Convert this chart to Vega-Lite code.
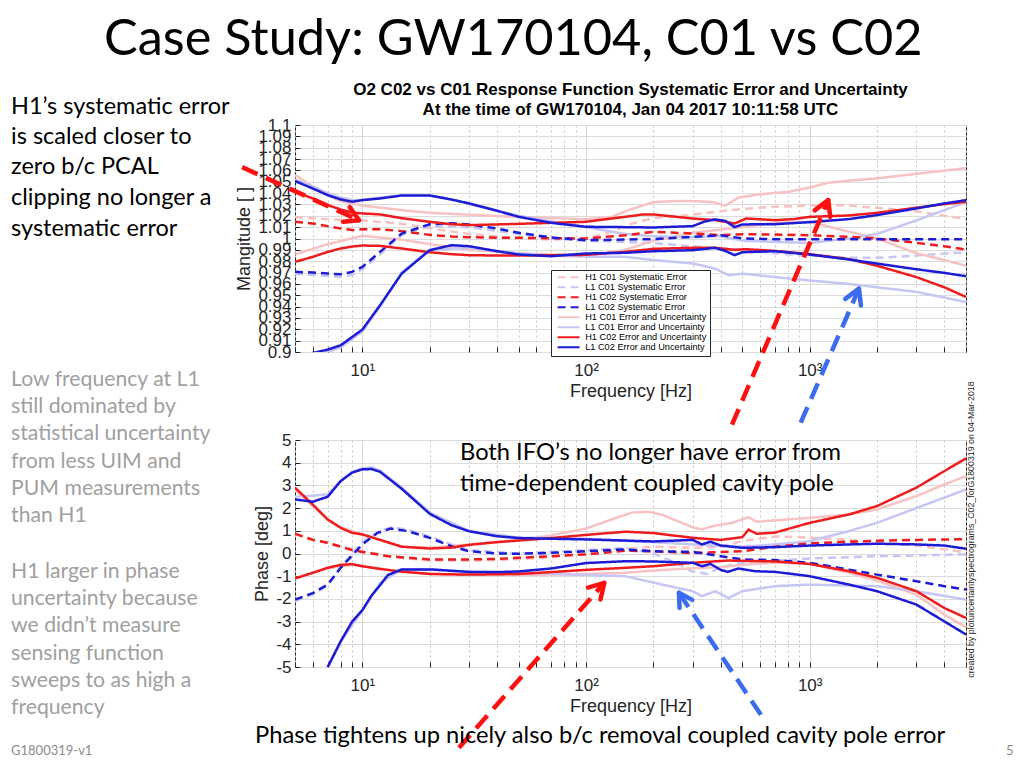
{
"$schema": "https://vega.github.io/schema/vega-lite/v6.json",
"background": "white",
"padding": {"left": 10, "top": 14, "right": 0, "bottom": 0},
"autosize": {"type": "pad"},
"bounds": "flush",
"spacing": 88,
"config": {
  "view": {"stroke": "#262626", "strokeWidth": 1},
  "axis": {"labelFont": "Liberation Sans", "titleFont": "Liberation Sans", "labelColor": "#262626", "titleColor": "#262626", "titleFontWeight": "normal", "domain": false, "ticks": true, "tickSize": -5, "tickColor": "#262626", "labelFontSize": 17, "titleFontSize": 18, "labelOverlap": false, "labelSeparation": -40, "labelBound": false, "tickCount": 200}
},
"datasets": {
"mag": [
{"s":"hs1","b":"m","f":5,"v":1.019},{"s":"hs1","b":"m","f":7,"v":1.017},{"s":"hs1","b":"m","f":10,"v":1.016},{"s":"hs1","b":"m","f":15,"v":1.013},{"s":"hs1","b":"m","f":20,"v":1.009},{"s":"hs1","b":"m","f":30,"v":1.004},{"s":"hs1","b":"m","f":50,"v":1.0},{"s":"hs1","b":"m","f":70,"v":0.999},{"s":"hs1","b":"m","f":100,"v":1.0},{"s":"hs1","b":"m","f":130,"v":1.006},{"s":"hs1","b":"m","f":160,"v":1.013},{"s":"hs1","b":"m","f":200,"v":1.018},{"s":"hs1","b":"m","f":300,"v":1.021},{"s":"hs1","b":"m","f":400,"v":1.024},{"s":"hs1","b":"m","f":500,"v":1.026},{"s":"hs1","b":"m","f":700,"v":1.028},{"s":"hs1","b":"m","f":1000,"v":1.029},{"s":"hs1","b":"m","f":1500,"v":1.029},{"s":"hs1","b":"m","f":2000,"v":1.027},{"s":"hs1","b":"m","f":3000,"v":1.024},{"s":"hs1","b":"m","f":5000,"v":1.017},
{"s":"ls1","b":"m","f":5,"v":0.969},{"s":"ls1","b":"m","f":6,"v":0.968},{"s":"ls1","b":"m","f":7,"v":0.967},{"s":"ls1","b":"m","f":8,"v":0.966},{"s":"ls1","b":"m","f":9,"v":0.968},{"s":"ls1","b":"m","f":10,"v":0.973},{"s":"ls1","b":"m","f":12,"v":0.986},{"s":"ls1","b":"m","f":15,"v":1.003},{"s":"ls1","b":"m","f":20,"v":1.011},{"s":"ls1","b":"m","f":30,"v":1.01},{"s":"ls1","b":"m","f":50,"v":1.004},{"s":"ls1","b":"m","f":70,"v":1.0},{"s":"ls1","b":"m","f":100,"v":0.998},{"s":"ls1","b":"m","f":200,"v":0.996},{"s":"ls1","b":"m","f":300,"v":0.993},{"s":"ls1","b":"m","f":500,"v":0.99},{"s":"ls1","b":"m","f":700,"v":0.987},{"s":"ls1","b":"m","f":1000,"v":0.985},{"s":"ls1","b":"m","f":1500,"v":0.983},{"s":"ls1","b":"m","f":2000,"v":0.983},{"s":"ls1","b":"m","f":3000,"v":0.985},{"s":"ls1","b":"m","f":5000,"v":0.988},
{"s":"he1","b":"u","f":5,"v":1.056},{"s":"he1","b":"u","f":6,"v":1.046},{"s":"he1","b":"u","f":7,"v":1.038},{"s":"he1","b":"u","f":8,"v":1.033},{"s":"he1","b":"u","f":10,"v":1.029},{"s":"he1","b":"u","f":15,"v":1.025},{"s":"he1","b":"u","f":20,"v":1.0226},{"s":"he1","b":"u","f":30,"v":1.021},{"s":"he1","b":"u","f":50,"v":1.019},{"s":"he1","b":"u","f":70,"v":1.018},{"s":"he1","b":"u","f":100,"v":1.017},{"s":"he1","b":"u","f":130,"v":1.019},{"s":"he1","b":"u","f":160,"v":1.026},{"s":"he1","b":"u","f":200,"v":1.032},{"s":"he1","b":"u","f":250,"v":1.033},{"s":"he1","b":"u","f":300,"v":1.033},{"s":"he1","b":"u","f":370,"v":1.032},{"s":"he1","b":"u","f":420,"v":1.029},{"s":"he1","b":"u","f":480,"v":1.036},{"s":"he1","b":"u","f":600,"v":1.039},{"s":"he1","b":"u","f":800,"v":1.041},{"s":"he1","b":"u","f":1000,"v":1.045},{"s":"he1","b":"u","f":1200,"v":1.049},{"s":"he1","b":"u","f":1500,"v":1.051},{"s":"he1","b":"u","f":2000,"v":1.053},{"s":"he1","b":"u","f":3000,"v":1.057},{"s":"he1","b":"u","f":5000,"v":1.062},
{"s":"he1","b":"l","f":5,"v":0.986},{"s":"he1","b":"l","f":7,"v":0.995},{"s":"he1","b":"l","f":10,"v":1.0024},{"s":"he1","b":"l","f":15,"v":0.999},{"s":"he1","b":"l","f":20,"v":0.995},{"s":"he1","b":"l","f":30,"v":0.99},{"s":"he1","b":"l","f":50,"v":0.987},{"s":"he1","b":"l","f":70,"v":0.986},{"s":"he1","b":"l","f":100,"v":0.985},{"s":"he1","b":"l","f":150,"v":0.99},{"s":"he1","b":"l","f":200,"v":0.998},{"s":"he1","b":"l","f":300,"v":1.005},{"s":"he1","b":"l","f":500,"v":1.01},{"s":"he1","b":"l","f":700,"v":1.014},{"s":"he1","b":"l","f":1000,"v":1.0147},{"s":"he1","b":"l","f":1500,"v":1.006},{"s":"he1","b":"l","f":2000,"v":1.0},{"s":"he1","b":"l","f":3000,"v":0.987},{"s":"he1","b":"l","f":4000,"v":0.981},{"s":"he1","b":"l","f":5000,"v":0.976},
{"s":"le1","b":"u","f":5,"v":1.052},{"s":"le1","b":"u","f":6,"v":1.046},{"s":"le1","b":"u","f":7,"v":1.04},{"s":"le1","b":"u","f":8,"v":1.036},{"s":"le1","b":"u","f":9,"v":1.034},{"s":"le1","b":"u","f":10,"v":1.034},{"s":"le1","b":"u","f":12,"v":1.036},{"s":"le1","b":"u","f":15,"v":1.038},{"s":"le1","b":"u","f":20,"v":1.038},{"s":"le1","b":"u","f":30,"v":1.031},{"s":"le1","b":"u","f":50,"v":1.02},{"s":"le1","b":"u","f":70,"v":1.015},{"s":"le1","b":"u","f":100,"v":1.01},{"s":"le1","b":"u","f":150,"v":1.004},{"s":"le1","b":"u","f":200,"v":1.002},{"s":"le1","b":"u","f":300,"v":1.001},{"s":"le1","b":"u","f":400,"v":1.002},{"s":"le1","b":"u","f":500,"v":0.998},{"s":"le1","b":"u","f":700,"v":0.997},{"s":"le1","b":"u","f":1000,"v":0.996},{"s":"le1","b":"u","f":1500,"v":1.0},{"s":"le1","b":"u","f":2000,"v":1.004},{"s":"le1","b":"u","f":3000,"v":1.016},{"s":"le1","b":"u","f":5000,"v":1.032},
{"s":"le1","b":"l","f":5,"v":0.895},{"s":"le1","b":"l","f":7,"v":0.9},{"s":"le1","b":"l","f":8,"v":0.904},{"s":"le1","b":"l","f":10,"v":0.918},{"s":"le1","b":"l","f":12,"v":0.94},{"s":"le1","b":"l","f":15,"v":0.97},{"s":"le1","b":"l","f":20,"v":0.99},{"s":"le1","b":"l","f":30,"v":0.992},{"s":"le1","b":"l","f":50,"v":0.987},{"s":"le1","b":"l","f":70,"v":0.985},{"s":"le1","b":"l","f":100,"v":0.984},{"s":"le1","b":"l","f":150,"v":0.9838},{"s":"le1","b":"l","f":200,"v":0.981},{"s":"le1","b":"l","f":300,"v":0.978},{"s":"le1","b":"l","f":378,"v":0.9735},{"s":"le1","b":"l","f":434,"v":0.9676},{"s":"le1","b":"l","f":500,"v":0.969},{"s":"le1","b":"l","f":700,"v":0.966},{"s":"le1","b":"l","f":1000,"v":0.963},{"s":"le1","b":"l","f":1500,"v":0.96},{"s":"le1","b":"l","f":2000,"v":0.957},{"s":"le1","b":"l","f":3000,"v":0.953},{"s":"le1","b":"l","f":5000,"v":0.944},
{"s":"hs2","b":"m","f":5,"v":1.0147},{"s":"hs2","b":"m","f":6,"v":1.0132},{"s":"hs2","b":"m","f":7,"v":1.0109},{"s":"hs2","b":"m","f":8,"v":1.0088},{"s":"hs2","b":"m","f":9,"v":1.0074},{"s":"hs2","b":"m","f":10,"v":1.0082},{"s":"hs2","b":"m","f":12,"v":1.0082},{"s":"hs2","b":"m","f":15,"v":1.0065},{"s":"hs2","b":"m","f":20,"v":1.0032},{"s":"hs2","b":"m","f":25,"v":1.0018},{"s":"hs2","b":"m","f":30,"v":1.0012},{"s":"hs2","b":"m","f":40,"v":1.0006},{"s":"hs2","b":"m","f":50,"v":1.0006},{"s":"hs2","b":"m","f":70,"v":1.0003},{"s":"hs2","b":"m","f":100,"v":1.0},{"s":"hs2","b":"m","f":150,"v":1.0029},{"s":"hs2","b":"m","f":200,"v":1.0059},{"s":"hs2","b":"m","f":300,"v":1.0044},{"s":"hs2","b":"m","f":400,"v":1.0029},{"s":"hs2","b":"m","f":500,"v":1.0038},{"s":"hs2","b":"m","f":700,"v":1.0035},{"s":"hs2","b":"m","f":1000,"v":1.0029},{"s":"hs2","b":"m","f":1500,"v":1.0015},{"s":"hs2","b":"m","f":2000,"v":1.0},{"s":"hs2","b":"m","f":3000,"v":0.9962},{"s":"hs2","b":"m","f":4000,"v":0.9932},{"s":"hs2","b":"m","f":5000,"v":0.9903},
{"s":"ls2","b":"m","f":5,"v":0.9706},{"s":"ls2","b":"m","f":6,"v":0.97},{"s":"ls2","b":"m","f":7,"v":0.9691},{"s":"ls2","b":"m","f":8,"v":0.9685},{"s":"ls2","b":"m","f":9,"v":0.9706},{"s":"ls2","b":"m","f":10,"v":0.975},{"s":"ls2","b":"m","f":12,"v":0.9882},{"s":"ls2","b":"m","f":15,"v":1.0044},{"s":"ls2","b":"m","f":20,"v":1.0126},{"s":"ls2","b":"m","f":25,"v":1.0135},{"s":"ls2","b":"m","f":30,"v":1.0124},{"s":"ls2","b":"m","f":40,"v":1.0088},{"s":"ls2","b":"m","f":50,"v":1.005},{"s":"ls2","b":"m","f":70,"v":1.0009},{"s":"ls2","b":"m","f":100,"v":0.9985},{"s":"ls2","b":"m","f":150,"v":0.9991},{"s":"ls2","b":"m","f":200,"v":0.9994},{"s":"ls2","b":"m","f":300,"v":1.0015},{"s":"ls2","b":"m","f":400,"v":1.0029},{"s":"ls2","b":"m","f":500,"v":1.0},{"s":"ls2","b":"m","f":700,"v":0.9994},{"s":"ls2","b":"m","f":1000,"v":0.9994},{"s":"ls2","b":"m","f":2000,"v":0.9994},{"s":"ls2","b":"m","f":5000,"v":0.9994},
{"s":"he2","b":"u","f":5,"v":1.0412},{"s":"he2","b":"u","f":6,"v":1.0353},{"s":"he2","b":"u","f":7,"v":1.0294},{"s":"he2","b":"u","f":8,"v":1.0256},{"s":"he2","b":"u","f":9,"v":1.0229},{"s":"he2","b":"u","f":10,"v":1.0221},{"s":"he2","b":"u","f":12,"v":1.0212},{"s":"he2","b":"u","f":15,"v":1.0179},{"s":"he2","b":"u","f":20,"v":1.0147},{"s":"he2","b":"u","f":25,"v":1.0126},{"s":"he2","b":"u","f":30,"v":1.0118},{"s":"he2","b":"u","f":40,"v":1.0124},{"s":"he2","b":"u","f":50,"v":1.0129},{"s":"he2","b":"u","f":70,"v":1.0138},{"s":"he2","b":"u","f":100,"v":1.0147},{"s":"he2","b":"u","f":130,"v":1.0176},{"s":"he2","b":"u","f":150,"v":1.0191},{"s":"he2","b":"u","f":180,"v":1.0212},{"s":"he2","b":"u","f":200,"v":1.0212},{"s":"he2","b":"u","f":300,"v":1.0176},{"s":"he2","b":"u","f":378,"v":1.0162},{"s":"he2","b":"u","f":462,"v":1.0132},{"s":"he2","b":"u","f":520,"v":1.0176},{"s":"he2","b":"u","f":700,"v":1.0162},{"s":"he2","b":"u","f":850,"v":1.0171},{"s":"he2","b":"u","f":1000,"v":1.0191},{"s":"he2","b":"u","f":1500,"v":1.0203},{"s":"he2","b":"u","f":2000,"v":1.0226},{"s":"he2","b":"u","f":3000,"v":1.0271},{"s":"he2","b":"u","f":4000,"v":1.0303},{"s":"he2","b":"u","f":5000,"v":1.0324},
{"s":"he2","b":"l","f":5,"v":0.9794},{"s":"he2","b":"l","f":6,"v":0.9838},{"s":"he2","b":"l","f":7,"v":0.9882},{"s":"he2","b":"l","f":8,"v":0.9912},{"s":"he2","b":"l","f":9,"v":0.9929},{"s":"he2","b":"l","f":10,"v":0.9938},{"s":"he2","b":"l","f":12,"v":0.9935},{"s":"he2","b":"l","f":15,"v":0.9912},{"s":"he2","b":"l","f":20,"v":0.9879},{"s":"he2","b":"l","f":25,"v":0.9862},{"s":"he2","b":"l","f":30,"v":0.9853},{"s":"he2","b":"l","f":40,"v":0.985},{"s":"he2","b":"l","f":50,"v":0.985},{"s":"he2","b":"l","f":70,"v":0.9853},{"s":"he2","b":"l","f":100,"v":0.9856},{"s":"he2","b":"l","f":150,"v":0.9882},{"s":"he2","b":"l","f":200,"v":0.9909},{"s":"he2","b":"l","f":300,"v":0.9918},{"s":"he2","b":"l","f":378,"v":0.9918},{"s":"he2","b":"l","f":462,"v":0.99},{"s":"he2","b":"l","f":520,"v":0.9906},{"s":"he2","b":"l","f":700,"v":0.9891},{"s":"he2","b":"l","f":1000,"v":0.9862},{"s":"he2","b":"l","f":1500,"v":0.9818},{"s":"he2","b":"l","f":2000,"v":0.976},{"s":"he2","b":"l","f":3000,"v":0.966},{"s":"he2","b":"l","f":4000,"v":0.957},{"s":"he2","b":"l","f":5000,"v":0.9485},
{"s":"le2","b":"u","f":5,"v":1.0506},{"s":"le2","b":"u","f":6,"v":1.0441},{"s":"le2","b":"u","f":7,"v":1.0382},{"s":"le2","b":"u","f":8,"v":1.0344},{"s":"le2","b":"u","f":9,"v":1.0324},{"s":"le2","b":"u","f":10,"v":1.0338},{"s":"le2","b":"u","f":12,"v":1.0353},{"s":"le2","b":"u","f":15,"v":1.0379},{"s":"le2","b":"u","f":20,"v":1.0379},{"s":"le2","b":"u","f":25,"v":1.0344},{"s":"le2","b":"u","f":30,"v":1.0309},{"s":"le2","b":"u","f":40,"v":1.0244},{"s":"le2","b":"u","f":50,"v":1.0191},{"s":"le2","b":"u","f":70,"v":1.0138},{"s":"le2","b":"u","f":100,"v":1.0103},{"s":"le2","b":"u","f":150,"v":1.01},{"s":"le2","b":"u","f":200,"v":1.0097},{"s":"le2","b":"u","f":300,"v":1.0109},{"s":"le2","b":"u","f":340,"v":1.015},{"s":"le2","b":"u","f":378,"v":1.0168},{"s":"le2","b":"u","f":420,"v":1.0155},{"s":"le2","b":"u","f":462,"v":1.01},{"s":"le2","b":"u","f":500,"v":1.0124},{"s":"le2","b":"u","f":700,"v":1.0126},{"s":"le2","b":"u","f":1000,"v":1.0144},{"s":"le2","b":"u","f":1500,"v":1.0171},{"s":"le2","b":"u","f":2000,"v":1.0206},{"s":"le2","b":"u","f":3000,"v":1.0265},{"s":"le2","b":"u","f":4000,"v":1.0309},{"s":"le2","b":"u","f":5000,"v":1.0338},
{"s":"le2","b":"l","f":5,"v":0.8956},{"s":"le2","b":"l","f":7,"v":0.9021},{"s":"le2","b":"l","f":8,"v":0.9059},{"s":"le2","b":"l","f":9,"v":0.9132},{"s":"le2","b":"l","f":10,"v":0.9197},{"s":"le2","b":"l","f":12,"v":0.9412},{"s":"le2","b":"l","f":15,"v":0.9691},{"s":"le2","b":"l","f":20,"v":0.9897},{"s":"le2","b":"l","f":25,"v":0.9941},{"s":"le2","b":"l","f":30,"v":0.9932},{"s":"le2","b":"l","f":40,"v":0.9888},{"s":"le2","b":"l","f":50,"v":0.9859},{"s":"le2","b":"l","f":70,"v":0.9844},{"s":"le2","b":"l","f":100,"v":0.9868},{"s":"le2","b":"l","f":150,"v":0.9874},{"s":"le2","b":"l","f":200,"v":0.9888},{"s":"le2","b":"l","f":300,"v":0.9897},{"s":"le2","b":"l","f":378,"v":0.9918},{"s":"le2","b":"l","f":420,"v":0.989},{"s":"le2","b":"l","f":462,"v":0.9853},{"s":"le2","b":"l","f":500,"v":0.9879},{"s":"le2","b":"l","f":700,"v":0.9888},{"s":"le2","b":"l","f":1000,"v":0.9859},{"s":"le2","b":"l","f":1500,"v":0.9815},{"s":"le2","b":"l","f":2000,"v":0.9779},{"s":"le2","b":"l","f":3000,"v":0.9729},{"s":"le2","b":"l","f":4000,"v":0.9697},{"s":"le2","b":"l","f":5000,"v":0.9668}
],
"phase": [
{"s":"hs1","b":"m","f":5,"v":0.85},{"s":"hs1","b":"m","f":7,"v":0.45},{"s":"hs1","b":"m","f":10,"v":0.1},{"s":"hs1","b":"m","f":15,"v":-0.2},{"s":"hs1","b":"m","f":20,"v":-0.3},{"s":"hs1","b":"m","f":30,"v":-0.32},{"s":"hs1","b":"m","f":50,"v":-0.25},{"s":"hs1","b":"m","f":70,"v":-0.15},{"s":"hs1","b":"m","f":100,"v":0.0},{"s":"hs1","b":"m","f":150,"v":0.2},{"s":"hs1","b":"m","f":200,"v":0.3},{"s":"hs1","b":"m","f":300,"v":0.25},{"s":"hs1","b":"m","f":400,"v":0.3},{"s":"hs1","b":"m","f":500,"v":0.55},{"s":"hs1","b":"m","f":700,"v":0.75},{"s":"hs1","b":"m","f":1000,"v":0.7},{"s":"hs1","b":"m","f":1500,"v":0.6},{"s":"hs1","b":"m","f":2000,"v":0.5},{"s":"hs1","b":"m","f":3000,"v":0.35},{"s":"hs1","b":"m","f":5000,"v":0.05},
{"s":"ls1","b":"m","f":5,"v":-2.1},{"s":"ls1","b":"m","f":6,"v":-1.8},{"s":"ls1","b":"m","f":7,"v":-1.4},{"s":"ls1","b":"m","f":8,"v":-0.6},{"s":"ls1","b":"m","f":10,"v":0.5},{"s":"ls1","b":"m","f":12,"v":1.0},{"s":"ls1","b":"m","f":13.5,"v":1.15},{"s":"ls1","b":"m","f":16,"v":1.05},{"s":"ls1","b":"m","f":20,"v":0.75},{"s":"ls1","b":"m","f":25,"v":0.4},{"s":"ls1","b":"m","f":30,"v":0.15},{"s":"ls1","b":"m","f":50,"v":0.0},{"s":"ls1","b":"m","f":100,"v":0.15},{"s":"ls1","b":"m","f":150,"v":0.25},{"s":"ls1","b":"m","f":200,"v":0.0},{"s":"ls1","b":"m","f":250,"v":-0.4},{"s":"ls1","b":"m","f":300,"v":-0.8},{"s":"ls1","b":"m","f":350,"v":-0.9},{"s":"ls1","b":"m","f":400,"v":-0.6},{"s":"ls1","b":"m","f":500,"v":-0.41},{"s":"ls1","b":"m","f":1000,"v":-0.22},{"s":"ls1","b":"m","f":2000,"v":-0.12},{"s":"ls1","b":"m","f":5000,"v":-0.04},
{"s":"he1","b":"u","f":5,"v":2.8},{"s":"he1","b":"u","f":6,"v":2.1},{"s":"he1","b":"u","f":7,"v":1.5},{"s":"he1","b":"u","f":8,"v":1.15},{"s":"he1","b":"u","f":10,"v":0.85},{"s":"he1","b":"u","f":12,"v":0.6},{"s":"he1","b":"u","f":15,"v":0.3},{"s":"he1","b":"u","f":20,"v":0.25},{"s":"he1","b":"u","f":30,"v":0.4},{"s":"he1","b":"u","f":50,"v":0.6},{"s":"he1","b":"u","f":70,"v":0.8},{"s":"he1","b":"u","f":100,"v":1.1},{"s":"he1","b":"u","f":130,"v":1.5},{"s":"he1","b":"u","f":160,"v":1.8},{"s":"he1","b":"u","f":190,"v":1.84},{"s":"he1","b":"u","f":220,"v":1.7},{"s":"he1","b":"u","f":300,"v":1.15},{"s":"he1","b":"u","f":330,"v":1.06},{"s":"he1","b":"u","f":370,"v":1.21},{"s":"he1","b":"u","f":450,"v":1.35},{"s":"he1","b":"u","f":533,"v":1.6},{"s":"he1","b":"u","f":580,"v":1.4},{"s":"he1","b":"u","f":700,"v":1.46},{"s":"he1","b":"u","f":1000,"v":1.57},{"s":"he1","b":"u","f":1500,"v":1.72},{"s":"he1","b":"u","f":2000,"v":1.94},{"s":"he1","b":"u","f":3000,"v":2.53},{"s":"he1","b":"u","f":4000,"v":3.04},{"s":"he1","b":"u","f":5000,"v":3.41},
{"s":"he1","b":"l","f":5,"v":-1.1},{"s":"he1","b":"l","f":7,"v":-0.65},{"s":"he1","b":"l","f":9,"v":-0.5},{"s":"he1","b":"l","f":10,"v":-0.56},{"s":"he1","b":"l","f":15,"v":-0.8},{"s":"he1","b":"l","f":20,"v":-0.9},{"s":"he1","b":"l","f":30,"v":-0.95},{"s":"he1","b":"l","f":50,"v":-0.95},{"s":"he1","b":"l","f":100,"v":-0.9},{"s":"he1","b":"l","f":150,"v":-0.85},{"s":"he1","b":"l","f":200,"v":-0.75},{"s":"he1","b":"l","f":300,"v":-0.65},{"s":"he1","b":"l","f":400,"v":-0.6},{"s":"he1","b":"l","f":500,"v":-0.5},{"s":"he1","b":"l","f":700,"v":-0.4},{"s":"he1","b":"l","f":1000,"v":-0.45},{"s":"he1","b":"l","f":1500,"v":-0.85},{"s":"he1","b":"l","f":2000,"v":-1.2},{"s":"he1","b":"l","f":3000,"v":-1.81},{"s":"he1","b":"l","f":4000,"v":-2.69},{"s":"he1","b":"l","f":5000,"v":-3.25},
{"s":"le1","b":"u","f":5,"v":2.5},{"s":"le1","b":"u","f":6,"v":2.55},{"s":"le1","b":"u","f":7,"v":2.6},{"s":"le1","b":"u","f":8,"v":3.2},{"s":"le1","b":"u","f":9,"v":3.6},{"s":"le1","b":"u","f":10,"v":3.75},{"s":"le1","b":"u","f":11,"v":3.8},{"s":"le1","b":"u","f":12,"v":3.65},{"s":"le1","b":"u","f":15,"v":2.9},{"s":"le1","b":"u","f":20,"v":1.8},{"s":"le1","b":"u","f":30,"v":1.0},{"s":"le1","b":"u","f":50,"v":0.7},{"s":"le1","b":"u","f":100,"v":0.65},{"s":"le1","b":"u","f":150,"v":0.55},{"s":"le1","b":"u","f":200,"v":0.5},{"s":"le1","b":"u","f":300,"v":0.4},{"s":"le1","b":"u","f":500,"v":0.3},{"s":"le1","b":"u","f":700,"v":0.4},{"s":"le1","b":"u","f":1000,"v":0.54},{"s":"le1","b":"u","f":1500,"v":0.99},{"s":"le1","b":"u","f":2000,"v":1.35},{"s":"le1","b":"u","f":3000,"v":2.0},{"s":"le1","b":"u","f":5000,"v":2.82},
{"s":"le1","b":"l","f":6.8,"v":-5.3},{"s":"le1","b":"l","f":8,"v":-3.9},{"s":"le1","b":"l","f":10,"v":-2.5},{"s":"le1","b":"l","f":12,"v":-1.3},{"s":"le1","b":"l","f":15,"v":-0.7},{"s":"le1","b":"l","f":20,"v":-0.7},{"s":"le1","b":"l","f":30,"v":-0.8},{"s":"le1","b":"l","f":50,"v":-0.85},{"s":"le1","b":"l","f":70,"v":-0.9},{"s":"le1","b":"l","f":100,"v":-0.95},{"s":"le1","b":"l","f":150,"v":-1.0},{"s":"le1","b":"l","f":219,"v":-1.37},{"s":"le1","b":"l","f":300,"v":-1.66},{"s":"le1","b":"l","f":330,"v":-1.88},{"s":"le1","b":"l","f":378,"v":-1.66},{"s":"le1","b":"l","f":434,"v":-1.96},{"s":"le1","b":"l","f":500,"v":-1.66},{"s":"le1","b":"l","f":700,"v":-1.44},{"s":"le1","b":"l","f":1000,"v":-1.37},{"s":"le1","b":"l","f":2000,"v":-1.44},{"s":"le1","b":"l","f":3000,"v":-1.66},{"s":"le1","b":"l","f":5000,"v":-2.03},
{"s":"hs2","b":"m","f":5,"v":0.87},{"s":"hs2","b":"m","f":6,"v":0.6},{"s":"hs2","b":"m","f":7,"v":0.47},{"s":"hs2","b":"m","f":9,"v":0.15},{"s":"hs2","b":"m","f":10,"v":0.07},{"s":"hs2","b":"m","f":13,"v":-0.12},{"s":"hs2","b":"m","f":20,"v":-0.26},{"s":"hs2","b":"m","f":30,"v":-0.26},{"s":"hs2","b":"m","f":40,"v":-0.24},{"s":"hs2","b":"m","f":50,"v":-0.19},{"s":"hs2","b":"m","f":70,"v":-0.12},{"s":"hs2","b":"m","f":100,"v":-0.04},{"s":"hs2","b":"m","f":150,"v":0.12},{"s":"hs2","b":"m","f":200,"v":0.1},{"s":"hs2","b":"m","f":300,"v":0.02},{"s":"hs2","b":"m","f":500,"v":0.1},{"s":"hs2","b":"m","f":700,"v":0.3},{"s":"hs2","b":"m","f":1000,"v":0.45},{"s":"hs2","b":"m","f":1500,"v":0.52},{"s":"hs2","b":"m","f":2000,"v":0.56},{"s":"hs2","b":"m","f":3000,"v":0.6},{"s":"hs2","b":"m","f":5000,"v":0.63},
{"s":"ls2","b":"m","f":5,"v":-2.03},{"s":"ls2","b":"m","f":6,"v":-1.75},{"s":"ls2","b":"m","f":7,"v":-1.37},{"s":"ls2","b":"m","f":8,"v":-0.63},{"s":"ls2","b":"m","f":10,"v":0.4},{"s":"ls2","b":"m","f":11.7,"v":0.91},{"s":"ls2","b":"m","f":13.4,"v":1.1},{"s":"ls2","b":"m","f":15.9,"v":0.99},{"s":"ls2","b":"m","f":20,"v":0.69},{"s":"ls2","b":"m","f":25,"v":0.32},{"s":"ls2","b":"m","f":30,"v":0.1},{"s":"ls2","b":"m","f":40,"v":0.0},{"s":"ls2","b":"m","f":50,"v":-0.01},{"s":"ls2","b":"m","f":70,"v":0.03},{"s":"ls2","b":"m","f":100,"v":0.1},{"s":"ls2","b":"m","f":150,"v":0.18},{"s":"ls2","b":"m","f":200,"v":0.1},{"s":"ls2","b":"m","f":300,"v":0.07},{"s":"ls2","b":"m","f":400,"v":-0.12},{"s":"ls2","b":"m","f":500,"v":-0.26},{"s":"ls2","b":"m","f":700,"v":-0.29},{"s":"ls2","b":"m","f":1000,"v":-0.41},{"s":"ls2","b":"m","f":1500,"v":-0.71},{"s":"ls2","b":"m","f":2000,"v":-0.93},{"s":"ls2","b":"m","f":3000,"v":-1.22},{"s":"ls2","b":"m","f":4000,"v":-1.44},{"s":"ls2","b":"m","f":5000,"v":-1.59},
{"s":"he2","b":"u","f":5,"v":2.9},{"s":"he2","b":"u","f":6,"v":2.16},{"s":"he2","b":"u","f":7,"v":1.5},{"s":"he2","b":"u","f":8,"v":1.13},{"s":"he2","b":"u","f":9,"v":0.91},{"s":"he2","b":"u","f":10,"v":0.84},{"s":"he2","b":"u","f":12,"v":0.6},{"s":"he2","b":"u","f":15,"v":0.3},{"s":"he2","b":"u","f":20,"v":0.22},{"s":"he2","b":"u","f":25,"v":0.26},{"s":"he2","b":"u","f":30,"v":0.38},{"s":"he2","b":"u","f":40,"v":0.5},{"s":"he2","b":"u","f":50,"v":0.57},{"s":"he2","b":"u","f":70,"v":0.68},{"s":"he2","b":"u","f":100,"v":0.82},{"s":"he2","b":"u","f":150,"v":0.96},{"s":"he2","b":"u","f":200,"v":0.9},{"s":"he2","b":"u","f":300,"v":0.69},{"s":"he2","b":"u","f":400,"v":0.6},{"s":"he2","b":"u","f":500,"v":0.72},{"s":"he2","b":"u","f":533,"v":1.05},{"s":"he2","b":"u","f":580,"v":0.87},{"s":"he2","b":"u","f":700,"v":0.92},{"s":"he2","b":"u","f":1000,"v":1.35},{"s":"he2","b":"u","f":1500,"v":1.72},{"s":"he2","b":"u","f":2000,"v":2.09},{"s":"he2","b":"u","f":3000,"v":2.9},{"s":"he2","b":"u","f":4000,"v":3.63},{"s":"he2","b":"u","f":5000,"v":4.19},
{"s":"he2","b":"l","f":5,"v":-1.1},{"s":"he2","b":"l","f":6,"v":-0.85},{"s":"he2","b":"l","f":7,"v":-0.63},{"s":"he2","b":"l","f":8,"v":-0.5},{"s":"he2","b":"l","f":9,"v":-0.47},{"s":"he2","b":"l","f":10,"v":-0.56},{"s":"he2","b":"l","f":12,"v":-0.68},{"s":"he2","b":"l","f":15,"v":-0.8},{"s":"he2","b":"l","f":20,"v":-0.9},{"s":"he2","b":"l","f":30,"v":-0.93},{"s":"he2","b":"l","f":50,"v":-0.9},{"s":"he2","b":"l","f":70,"v":-0.82},{"s":"he2","b":"l","f":100,"v":-0.72},{"s":"he2","b":"l","f":150,"v":-0.63},{"s":"he2","b":"l","f":200,"v":-0.56},{"s":"he2","b":"l","f":300,"v":-0.41},{"s":"he2","b":"l","f":430,"v":-0.31},{"s":"he2","b":"l","f":700,"v":-0.35},{"s":"he2","b":"l","f":1000,"v":-0.46},{"s":"he2","b":"l","f":1500,"v":-0.78},{"s":"he2","b":"l","f":2000,"v":-1.07},{"s":"he2","b":"l","f":3000,"v":-1.66},{"s":"he2","b":"l","f":4000,"v":-2.4},{"s":"he2","b":"l","f":5000,"v":-2.84},
{"s":"le2","b":"u","f":5,"v":2.38},{"s":"le2","b":"u","f":6,"v":2.28},{"s":"le2","b":"u","f":7,"v":2.5},{"s":"le2","b":"u","f":8,"v":3.19},{"s":"le2","b":"u","f":9,"v":3.56},{"s":"le2","b":"u","f":10,"v":3.71},{"s":"le2","b":"u","f":11,"v":3.72},{"s":"le2","b":"u","f":12,"v":3.6},{"s":"le2","b":"u","f":15,"v":2.85},{"s":"le2","b":"u","f":20,"v":1.75},{"s":"le2","b":"u","f":25,"v":1.25},{"s":"le2","b":"u","f":30,"v":0.98},{"s":"le2","b":"u","f":40,"v":0.76},{"s":"le2","b":"u","f":50,"v":0.68},{"s":"le2","b":"u","f":70,"v":0.65},{"s":"le2","b":"u","f":100,"v":0.62},{"s":"le2","b":"u","f":150,"v":0.57},{"s":"le2","b":"u","f":200,"v":0.53},{"s":"le2","b":"u","f":300,"v":0.6},{"s":"le2","b":"u","f":330,"v":0.4},{"s":"le2","b":"u","f":360,"v":0.52},{"s":"le2","b":"u","f":400,"v":0.35},{"s":"le2","b":"u","f":500,"v":0.25},{"s":"le2","b":"u","f":700,"v":0.28},{"s":"le2","b":"u","f":1000,"v":0.35},{"s":"le2","b":"u","f":1500,"v":0.4},{"s":"le2","b":"u","f":2000,"v":0.43},{"s":"le2","b":"u","f":3000,"v":0.4},{"s":"le2","b":"u","f":4000,"v":0.35},{"s":"le2","b":"u","f":5000,"v":0.21},
{"s":"le2","b":"l","f":6.3,"v":-6.2},{"s":"le2","b":"l","f":7,"v":-5.0},{"s":"le2","b":"l","f":8,"v":-3.87},{"s":"le2","b":"l","f":9,"v":-3.0},{"s":"le2","b":"l","f":10,"v":-2.5},{"s":"le2","b":"l","f":11,"v":-1.85},{"s":"le2","b":"l","f":12,"v":-1.4},{"s":"le2","b":"l","f":13,"v":-0.95},{"s":"le2","b":"l","f":15,"v":-0.7},{"s":"le2","b":"l","f":20,"v":-0.7},{"s":"le2","b":"l","f":30,"v":-0.81},{"s":"le2","b":"l","f":40,"v":-0.82},{"s":"le2","b":"l","f":50,"v":-0.79},{"s":"le2","b":"l","f":70,"v":-0.66},{"s":"le2","b":"l","f":100,"v":-0.42},{"s":"le2","b":"l","f":150,"v":-0.34},{"s":"le2","b":"l","f":200,"v":-0.35},{"s":"le2","b":"l","f":300,"v":-0.41},{"s":"le2","b":"l","f":330,"v":-0.56},{"s":"le2","b":"l","f":360,"v":-0.46},{"s":"le2","b":"l","f":400,"v":-0.72},{"s":"le2","b":"l","f":430,"v":-0.81},{"s":"le2","b":"l","f":480,"v":-0.66},{"s":"le2","b":"l","f":570,"v":-0.78},{"s":"le2","b":"l","f":700,"v":-0.81},{"s":"le2","b":"l","f":1000,"v":-1.0},{"s":"le2","b":"l","f":1500,"v":-1.37},{"s":"le2","b":"l","f":2000,"v":-1.66},{"s":"le2","b":"l","f":3000,"v":-2.25},{"s":"le2","b":"l","f":4000,"v":-2.99},{"s":"le2","b":"l","f":5000,"v":-3.57}
],
"shaftTopRed": [{"f":2.9,"v":1.0629,"f2":9.66,"v2":1.0161},{"f":449.4,"v":0.836,"f2":1211,"v2":1.0338}],
"headTopRed": [{"f":9.66,"v":1.0161,"f2":8.78,"v2":1.0276},{"f":9.66,"v":1.0161,"f2":8.2,"v2":1.0147},{"f":1211,"v":1.0338,"f2":1053,"v2":1.0248},{"f":1211,"v":1.0338,"f2":1236,"v2":1.0189}],
"shaftTopBlue": [{"f":912,"v":0.8377,"f2":1661,"v2":0.9558}],
"headTopBlue": [{"f":1661,"v":0.9558,"f2":1443,"v2":0.9468},{"f":1661,"v":0.9558,"f2":1695,"v2":0.9409}],
"shaftBotRed": [{"f":27.04,"v":-8.56,"f2":120.7,"v2":-1.293}],
"headBotRed": [{"f":120.7,"v":-1.293,"f2":102.0,"v2":-1.5},{"f":120.7,"v":-1.293,"f2":116.1,"v2":-2.03}],
"shaftBotBlue": [{"f":605.5,"v":-7.105,"f2":260.4,"v2":-1.734}],
"headBotBlue": [{"f":260.4,"v":-1.734,"f2":262.0,"v2":-2.396},{"f":260.4,"v":-1.734,"f2":298.5,"v2":-2.043}],
"slideTitle": [{"f":0.7,"v":1.1751,"t":"Case Study: GW170104, C01 vs C02"}],
"plotTitle": [{"f":158.1,"v":1.1309,"t":"O2 C02 vs C01 Response Function Systematic Error and Uncertainty"},{"f":158.1,"v":1.1132,"t":"At the time of GW170104, Jan 04 2017 10:11:58 UTC"}],
"noteTop": [{"f":0.2688,"v":1.1159,"t":"H1’s systematic error"},{"f":0.2688,"v":1.0894,"t":"is scaled closer to"},{"f":0.2688,"v":1.0629,"t":"zero b/c PCAL"},{"f":0.2688,"v":1.0355,"t":"clipping no longer a"},{"f":0.2688,"v":1.0082,"t":"systematic error"}],
"noteGray": [{"f":0.2688,"v":7.635,"t":"Low frequency at L1"},{"f":0.2688,"v":6.443,"t":"still dominated by"},{"f":0.2688,"v":5.252,"t":"statistical uncertainty"},{"f":0.2688,"v":4.016,"t":"from less UIM and"},{"f":0.2688,"v":2.824,"t":"PUM measurements"},{"f":0.2688,"v":1.633,"t":"than H1"},{"f":0.2688,"v":-0.794,"t":"H1 larger in phase"},{"f":0.2688,"v":-1.986,"t":"uncertainty because"},{"f":0.2688,"v":-3.177,"t":"we didn’t measure"},{"f":0.2688,"v":-4.413,"t":"sensing function"},{"f":0.2688,"v":-5.605,"t":"sweeps to as high a"},{"f":0.2688,"v":-6.796,"t":"frequency"}],
"noteMid": [{"f":27.33,"v":4.413,"t":"Both IFO’s no longer have error from"},{"f":27.33,"v":3.045,"t":"time-dependent coupled cavity pole"},{"f":3.313,"v":-8.032,"t":"Phase tightens up nicely also b/c removal coupled cavity pole error"}],
"footer": [{"f":0.2688,"v":-8.694,"t":"G1800319-v1"},{"f":7542,"v":-8.694,"t":"5"}],
"credit": [{"f":5259,"v":-5.472,"t":"created by plotuncertaintyspectrograms_C02_forG1800319 on 04-Mar-2018"}]
},
"resolve": {"scale": {"color": "independent", "strokeDash": "independent"}, "legend": {"color": "independent", "strokeDash": "independent"}},
"vconcat": [
{
  "width": 671, "height": 227,
  "layer": [
    {
      "data": {"name": "mag"},
      "mark": {"type": "line", "clip": true, "strokeWidth": 2.5, "strokeCap": "butt"},
      "encoding": {
        "x": {"field": "f", "type": "quantitative", "scale": {"type": "log", "domain": [5, 5000], "nice": false}, "axis": {"title": "Frequency [Hz]", "tickCount": 200, "values": [5,6,7,8,9,10,20,30,40,50,60,70,80,90,100,200,300,400,500,600,700,800,900,1000,2000,3000,4000,5000], "labelExpr": "datum.value == 10 ? '10¹' : datum.value == 100 ? '10²' : datum.value == 1000 ? '10³' : ''", "labelOverlap": false, "labelPadding": 15.5, "titlePadding": 4, "gridColor": {"condition": {"test": "datum.value == 10 || datum.value == 100 || datum.value == 1000", "value": "#d6d6d6"}, "value": "#c4c4c4"}, "gridDash": {"condition": {"test": "datum.value == 10 || datum.value == 100 || datum.value == 1000", "value": []}, "value": [2, 3]}}},
        "y": {"field": "v", "type": "quantitative", "scale": {"domain": [0.9, 1.1], "nice": false, "zero": false}, "axis": {"title": "Mangitude [ ]", "tickCount": 200, "values": [0.9,0.91,0.92,0.93,0.94,0.95,0.96,0.97,0.98,0.99,1,1.01,1.02,1.03,1.04,1.05,1.06,1.07,1.08,1.09,1.1], "format": "~g", "labelOverlap": false, "labelSeparation": -40, "labelPadding": 9, "titlePadding": 4, "gridColor": "#dcdcdc"}},
        "color": {"field": "s", "type": "nominal", "scale": {"domain": ["hs1","ls1","hs2","ls2","he1","le1","he2","le2"], "range": ["#f7c2c2","#c6c6f4","#ee1c1c","#1c1cd6","#f7c2c2","#c6c6f4","#ee1c1c","#1c1cd6"]}, "legend": {"orient": "none", "legendX": 256, "legendY": 145, "title": null, "symbolType": "M-1,0H21", "symbolSize": 4, "symbolStrokeWidth": 2, "labelFont": "Liberation Sans", "labelFontSize": 9.2, "labelColor": "black", "labelOffset": 22, "rowPadding": 0, "clipHeight": 8.6, "padding": 3, "strokeColor": "#262626", "fillColor": "white", "labelLimit": 300, "labelExpr": "datum.label == 'hs1' ? 'H1 C01 Systematic Error' : datum.label == 'ls1' ? 'L1 C01 Systematic Error' : datum.label == 'hs2' ? 'H1 C02 Systematic Error' : datum.label == 'ls2' ? 'L1 C02 Systematic Error' : datum.label == 'he1' ? 'H1 C01 Error and Uncertainty' : datum.label == 'le1' ? 'L1 C01 Error and Uncertainty' : datum.label == 'he2' ? 'H1 C02 Error and Uncertainty' : 'L1 C02 Error and Uncertainty'"}},
        "strokeDash": {"field": "s", "type": "nominal", "scale": {"domain": ["hs1","ls1","hs2","ls2","he1","le1","he2","le2"], "range": [[8,5],[8,5],[8,5],[8,5],[1,0],[1,0],[1,0],[1,0]]}},
        "detail": {"field": "b"}
      }
    },
    {"data": {"name": "shaftTopRed"}, "mark": {"type": "rule", "clip": false, "color": "#ff1010", "strokeWidth": 4.5, "strokeDash": [17, 9]}, "encoding": {"x": {"field": "f", "type": "quantitative"}, "y": {"field": "v", "type": "quantitative"}, "x2": {"field": "f2"}, "y2": {"field": "v2"}}},
    {"data": {"name": "headTopRed"}, "mark": {"type": "rule", "clip": false, "color": "#ff1010", "strokeWidth": 4.5, "strokeCap": "round"}, "encoding": {"x": {"field": "f", "type": "quantitative"}, "y": {"field": "v", "type": "quantitative"}, "x2": {"field": "f2"}, "y2": {"field": "v2"}}},
    {"data": {"name": "shaftTopBlue"}, "mark": {"type": "rule", "clip": false, "color": "#3b6cf0", "strokeWidth": 4.5, "strokeDash": [17, 9]}, "encoding": {"x": {"field": "f", "type": "quantitative"}, "y": {"field": "v", "type": "quantitative"}, "x2": {"field": "f2"}, "y2": {"field": "v2"}}},
    {"data": {"name": "headTopBlue"}, "mark": {"type": "rule", "clip": false, "color": "#3b6cf0", "strokeWidth": 4.5, "strokeCap": "round"}, "encoding": {"x": {"field": "f", "type": "quantitative"}, "y": {"field": "v", "type": "quantitative"}, "x2": {"field": "f2"}, "y2": {"field": "v2"}}},
    {"data": {"name": "slideTitle"}, "mark": {"type": "text", "clip": false, "align": "left", "baseline": "middle", "font": "Lato", "fontSize": 50.5, "color": "black"}, "encoding": {"x": {"field": "f", "type": "quantitative"}, "y": {"field": "v", "type": "quantitative"}, "text": {"field": "t"}}},
    {"data": {"name": "plotTitle"}, "mark": {"type": "text", "clip": false, "align": "center", "baseline": "middle", "font": "Liberation Sans", "fontSize": 17, "fontWeight": "bold", "color": "black"}, "encoding": {"x": {"field": "f", "type": "quantitative"}, "y": {"field": "v", "type": "quantitative"}, "text": {"field": "t"}}},
    {"data": {"name": "noteTop"}, "mark": {"type": "text", "clip": false, "align": "left", "baseline": "middle", "font": "Lato", "fontSize": 23.5, "color": "black"}, "encoding": {"x": {"field": "f", "type": "quantitative"}, "y": {"field": "v", "type": "quantitative"}, "text": {"field": "t"}}}
  ]
},
{
  "width": 671, "height": 227,
  "layer": [
    {
      "data": {"name": "phase"},
      "mark": {"type": "line", "clip": true, "strokeWidth": 2.5, "strokeCap": "butt"},
      "encoding": {
        "x": {"field": "f", "type": "quantitative", "scale": {"type": "log", "domain": [5, 5000], "nice": false}, "axis": {"title": "Frequency [Hz]", "tickCount": 200, "values": [5,6,7,8,9,10,20,30,40,50,60,70,80,90,100,200,300,400,500,600,700,800,900,1000,2000,3000,4000,5000], "labelExpr": "datum.value == 10 ? '10¹' : datum.value == 100 ? '10²' : datum.value == 1000 ? '10³' : ''", "labelOverlap": false, "labelPadding": 15.5, "titlePadding": 4, "gridColor": {"condition": {"test": "datum.value == 10 || datum.value == 100 || datum.value == 1000", "value": "#d6d6d6"}, "value": "#c4c4c4"}, "gridDash": {"condition": {"test": "datum.value == 10 || datum.value == 100 || datum.value == 1000", "value": []}, "value": [2, 3]}}},
        "y": {"field": "v", "type": "quantitative", "scale": {"domain": [-5, 5], "nice": false, "zero": false}, "axis": {"title": "Phase [deg]", "tickCount": 200, "values": [-5,-4,-3,-2,-1,0,1,2,3,4,5], "labelExpr": "datum.value + ''", "labelOverlap": false, "labelSeparation": -40, "labelPadding": 9, "titlePadding": 4, "gridColor": "#dcdcdc"}},
        "color": {"field": "s", "type": "nominal", "scale": {"domain": ["hs1","ls1","hs2","ls2","he1","le1","he2","le2"], "range": ["#f7c2c2","#c6c6f4","#ee1c1c","#1c1cd6","#f7c2c2","#c6c6f4","#ee1c1c","#1c1cd6"]}, "legend": null},
        "strokeDash": {"field": "s", "type": "nominal", "scale": {"domain": ["hs1","ls1","hs2","ls2","he1","le1","he2","le2"], "range": [[8,5],[8,5],[8,5],[8,5],[1,0],[1,0],[1,0],[1,0]]}, "legend": null},
        "detail": {"field": "b"}
      }
    },
    {"data": {"name": "shaftBotRed"}, "mark": {"type": "rule", "clip": false, "color": "#ff1010", "strokeWidth": 4.5, "strokeDash": [17, 9]}, "encoding": {"x": {"field": "f", "type": "quantitative"}, "y": {"field": "v", "type": "quantitative"}, "x2": {"field": "f2"}, "y2": {"field": "v2"}}},
    {"data": {"name": "headBotRed"}, "mark": {"type": "rule", "clip": false, "color": "#ff1010", "strokeWidth": 4.5, "strokeCap": "round"}, "encoding": {"x": {"field": "f", "type": "quantitative"}, "y": {"field": "v", "type": "quantitative"}, "x2": {"field": "f2"}, "y2": {"field": "v2"}}},
    {"data": {"name": "shaftBotBlue"}, "mark": {"type": "rule", "clip": false, "color": "#3b6cf0", "strokeWidth": 4.5, "strokeDash": [17, 9]}, "encoding": {"x": {"field": "f", "type": "quantitative"}, "y": {"field": "v", "type": "quantitative"}, "x2": {"field": "f2"}, "y2": {"field": "v2"}}},
    {"data": {"name": "headBotBlue"}, "mark": {"type": "rule", "clip": false, "color": "#3b6cf0", "strokeWidth": 4.5, "strokeCap": "round"}, "encoding": {"x": {"field": "f", "type": "quantitative"}, "y": {"field": "v", "type": "quantitative"}, "x2": {"field": "f2"}, "y2": {"field": "v2"}}},
    {"data": {"name": "noteGray"}, "mark": {"type": "text", "clip": false, "align": "left", "baseline": "middle", "font": "Lato", "fontSize": 21.2, "color": "#a0a0a0"}, "encoding": {"x": {"field": "f", "type": "quantitative"}, "y": {"field": "v", "type": "quantitative"}, "text": {"field": "t"}}},
    {"data": {"name": "noteMid"}, "mark": {"type": "text", "clip": false, "align": "left", "baseline": "middle", "font": "Lato", "fontSize": 23.7, "color": "black"}, "encoding": {"x": {"field": "f", "type": "quantitative"}, "y": {"field": "v", "type": "quantitative"}, "text": {"field": "t"}}},
    {"data": {"name": "footer"}, "mark": {"type": "text", "clip": false, "align": "left", "baseline": "middle", "font": "Lato", "fontSize": 13, "color": "#8c8c8c"}, "encoding": {"x": {"field": "f", "type": "quantitative"}, "y": {"field": "v", "type": "quantitative"}, "text": {"field": "t"}}},
    {"data": {"name": "credit"}, "mark": {"type": "text", "clip": false, "align": "left", "baseline": "middle", "angle": 270, "font": "Liberation Sans", "fontSize": 8.8, "color": "#262626"}, "encoding": {"x": {"field": "f", "type": "quantitative"}, "y": {"field": "v", "type": "quantitative"}, "text": {"field": "t"}}}
  ]
}
]
}
